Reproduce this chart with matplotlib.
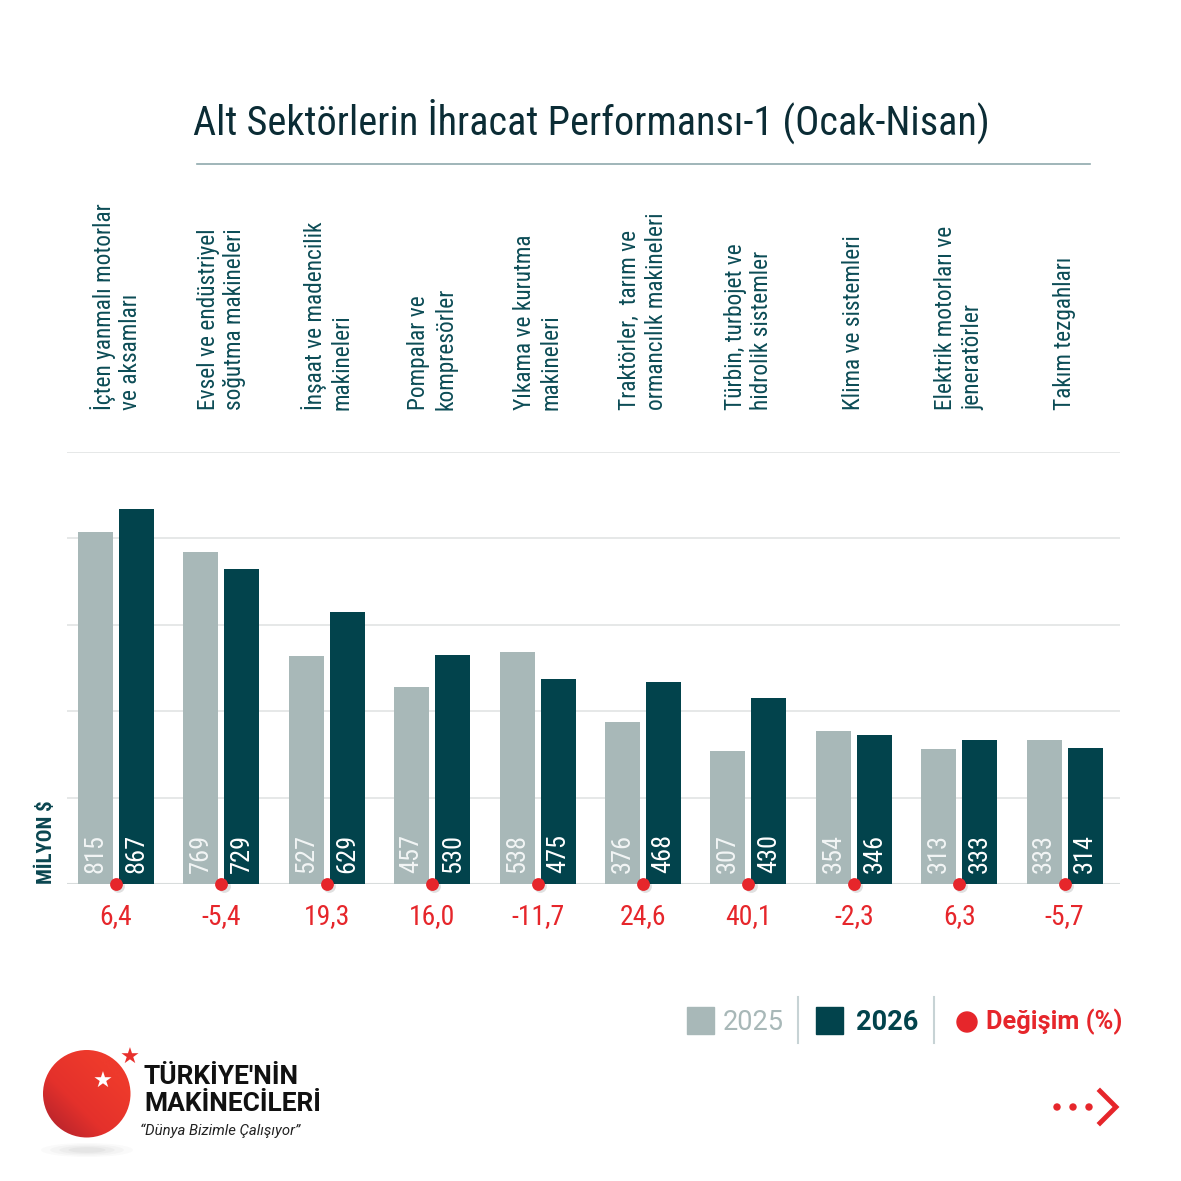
import numpy as np
import matplotlib
matplotlib.use("Agg")
import matplotlib.pyplot as plt
from matplotlib import font_manager
from matplotlib.patches import Circle, Ellipse, Rectangle
from matplotlib.lines import Line2D

# data
categories = [
    "İçten yanmalı motorlar\nve aksamları",
    "Evsel ve endüstriyel\nsoğutma makineleri",
    "İnşaat ve madencilik\nmakineleri",
    "Pompalar ve\nkompresörler",
    "Yıkama ve kurutma\nmakineleri",
    "Traktörler,  tarım ve\normancılık makineleri",
    "Türbin, turbojet ve\nhidrolik sistemler",
    "Klima ve sistemleri",
    "Elektrik motorları ve\njeneratörler",
    "Takım tezgahları",
]
vals_2025 = [815, 769, 527, 457, 538, 376, 307, 354, 313, 333]
vals_2026 = [867, 729, 629, 530, 475, 468, 430, 346, 333, 314]
change_pct = ["6,4", "-5,4", "19,3", "16,0", "-11,7", "24,6", "40,1", "-2,3", "6,3", "-5,7"]
grid_ticks = [200, 400, 600, 800, 1000]

C_GREY = "#a8b8b8"
C_DARK = "#02434c"
C_RED = "#e6262b"
C_TITLE = "#0b2c35"
C_LABEL = "#0c4c56"

# pick a narrow font if there is one
names = {f.name for f in font_manager.fontManager.ttflist}
COND = "Roboto"
for cand in ["Roboto Condensed", "Open Sans Condensed", "Noto Sans Condensed",
             "Liberation Sans Narrow", "DejaVu Sans Condensed"]:
    if cand in names:
        COND = cand
        break
plt.rcParams["font.family"] = [COND, "DejaVu Sans"]

W = H = 1181
fig = plt.figure(figsize=(W / 100, H / 100), dpi=100)


def fx(px):
    return px / W


def fy(py):
    return 1 - py / H


# main axes: baseline at y=884 px, top gridline (1000) at y=452 px
ax = fig.add_axes([fx(67), fy(884), fx(1120 - 67), (884 - 452) / H])
ax.set_xlim(-0.465, 9.525)
ax.set_ylim(0, 1000)
for s in ax.spines.values():
    s.set_visible(False)
ax.set_xticks([])
ax.set_yticks([])
for t in grid_ticks:
    ax.axhline(t, color="#e2e4e4", lw=1.2, zorder=0)
ax.axhline(0, color="#d8dcdc", lw=1.5, zorder=0)

x = np.arange(len(categories))
bw = 0.332
off = 0.1945
ax.bar(x - off, vals_2025, bw, color=C_GREY, zorder=2)
ax.bar(x + off, vals_2026, bw, color=C_DARK, zorder=2)

for i in range(len(categories)):
    ax.text(x[i] - off, 26, str(vals_2025[i]), rotation=90, ha="center", va="bottom",
            color="#f2f5f5", fontsize=19, zorder=3)
    ax.text(x[i] + off, 26, str(vals_2026[i]), rotation=90, ha="center", va="bottom",
            color="white", fontsize=19, zorder=3)
    ax.text(x[i], -76, change_pct[i], ha="center", va="center", color=C_RED,
            fontsize=20, clip_on=False)
    ax.text(x[i], 1097, categories[i], rotation=90, ha="center", va="bottom",
            multialignment="left", color=C_LABEL, fontsize=16.8, linespacing=1.2,
            clip_on=False)

# change markers on the baseline, with a faint shadow
ax.scatter(x + 0.02, np.zeros(len(x)) - 4, s=85, color="#000000", alpha=0.12,
           zorder=4, clip_on=False, linewidths=0)
ax.scatter(x, np.zeros(len(x)), s=85, color=C_RED, zorder=5, clip_on=False, linewidths=0)

# title and rule
fig.text(fx(591), fy(121), "Alt Sektörlerin İhracat Performansı-1 (Ocak-Nisan)",
         ha="center", va="center", fontsize=29, color=C_TITLE)
fig.add_artist(Line2D([fx(197), fx(1090)], [fy(164), fy(164)], color="#8fa9ad", lw=1.2))

fig.text(fx(46), fy(884), "MİLYON $", rotation=90, ha="center", va="bottom",
         fontsize=15, color="#0a4650", fontweight="bold")

# legend
fig.add_artist(Rectangle((fx(687), fy(1034)), fx(27), 27 / H, color=C_GREY))
fig.text(fx(723), fy(1022), "2025", ha="left", va="center", fontsize=19.5, color=C_GREY,
         family=["Roboto", "DejaVu Sans"])
fig.add_artist(Line2D([fx(798), fx(798)], [fy(997), fy(1043)], color="#c7d3d5", lw=1.5))
fig.add_artist(Rectangle((fx(816), fy(1034)), fx(27), 27 / H, color=C_DARK))
fig.text(fx(856), fy(1022), "2026", ha="left", va="center", fontsize=19.5, color=C_DARK,
         fontweight="bold", family=["Roboto", "DejaVu Sans"])
fig.add_artist(Line2D([fx(934), fx(934)], [fy(997), fy(1043)], color="#c7d3d5", lw=1.5))
fig.add_artist(Ellipse((fx(967), fy(1022)), fx(20), 20 / H, color=C_RED))
fig.text(fx(986), fy(1022), "Değişim (%)", ha="left", va="center", fontsize=18.3,
         color=C_RED, fontweight="bold", family=["Roboto", "DejaVu Sans"])

# next-page arrow
for px in [1057, 1073, 1089]:
    fig.add_artist(Ellipse((fx(px), fy(1107)), fx(6), 6 / H, color=C_RED))
fig.add_artist(Line2D([fx(1100), fx(1116), fx(1100)], [fy(1091), fy(1107), fy(1123)],
                      color=C_RED, lw=3.5, solid_joinstyle="miter"))

# logo
for k, a in zip([1.0, 0.8, 0.6, 0.4], [0.04, 0.05, 0.06, 0.08]):
    fig.add_artist(Ellipse((fx(87), fy(1150)), fx(92 * k), 14 * k / H, color="#888888",
                           alpha=a, lw=0))
lax = fig.add_axes([fx(43), fy(1137.5), fx(87.5), 87.5 / H])
lax.set_xlim(0, 1)
lax.set_ylim(0, 1)
lax.axis("off")
gx, gy = np.meshgrid(np.linspace(0, 1, 200), np.linspace(0, 1, 200))
grad = np.clip((gx + gy) / 2 * 1.3, 0, 1)
cmap = matplotlib.colors.LinearSegmentedColormap.from_list("logo", ["#a81f2c", "#e4312b", "#ee3a2c"])
im = lax.imshow(grad, extent=(0, 1, 0, 1), origin="lower", cmap=cmap, aspect="auto")
clip = Circle((0.5, 0.5), 0.5, transform=lax.transAxes)
im.set_clip_path(clip)
fig.text(fx(103), fy(1082), "★", ha="center", va="center", fontsize=16, color="white",
         family=["DejaVu Sans"])
fig.text(fx(130), fy(1058), "★", ha="center", va="center", fontsize=16, color="#e8302c",
         family=["DejaVu Sans"])
fig.text(fx(144), fy(1077), "TÜRKİYE'NİN", ha="left", va="center", fontsize=19,
         fontweight="bold", color="#111111", family=["Roboto", "DejaVu Sans"])
fig.text(fx(144), fy(1104), "MAKİNECİLERİ", ha="left", va="center", fontsize=19,
         fontweight="bold", color="#111111", family=["Roboto", "DejaVu Sans"])
fig.text(fx(140), fy(1131), "“Dünya Bizimle Çalışıyor”", ha="left", va="center",
         fontsize=10.7, style="italic", color="#222222", family=["Roboto", "DejaVu Sans"])

fig.savefig("out.png", dpi=100, facecolor="white")
